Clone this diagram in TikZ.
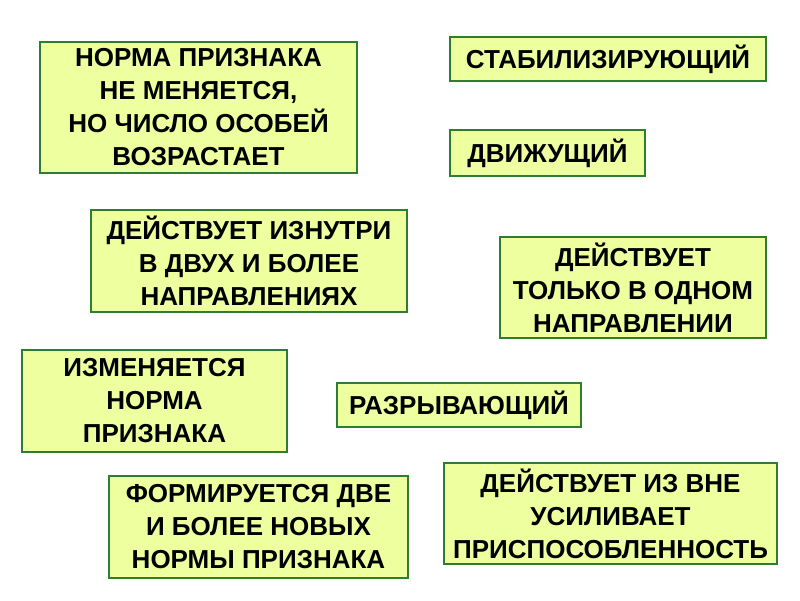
\documentclass[tikz,border=0pt]{standalone}
\usepackage{fontspec}
\setmainfont{Liberation Sans}
\definecolor{boxfill}{HTML}{EEFFA0}
\definecolor{boxline}{HTML}{2E7D32}
\begin{document}
\begin{tikzpicture}[x=1pt,y=-1pt,
  bx/.style={draw=boxline,line width=1.5pt,fill=boxfill,align=center,
    font=\fontsize{26}{33}\selectfont\bfseries,inner sep=0pt}]
\useasboundingbox (0,0) rectangle (800,600);
\newcommand\bxat[6]{\node[bx,minimum width={#3-#1},minimum height={#4-#2}] (#5) at ({(#1+#3)/2},{(#2+#4)/2}) {#6};}
\bxat{40}{42}{357}{173}{a}{НОРМА ПРИЗНАКА\\НЕ МЕНЯЕТСЯ,\\НО ЧИСЛО ОСОБЕЙ\\ВОЗРАСТАЕТ}
\bxat{450}{37}{766}{81}{b}{СТАБИЛИЗИРУЮЩИЙ}
\bxat{450}{130}{645}{176}{c}{ДВИЖУЩИЙ}
\bxat{91}{210}{407}{312}{d}{ДЕЙСТВУЕТ ИЗНУТРИ\\В ДВУХ И БОЛЕЕ\\НАПРАВЛЕНИЯХ}
\bxat{500}{237}{766}{338}{e}{ДЕЙСТВУЕТ\\ТОЛЬКО В ОДНОМ\\НАПРАВЛЕНИИ}
\bxat{22}{350}{287}{452}{f}{ИЗМЕНЯЕТСЯ\\НОРМА\\ПРИЗНАКА}
\bxat{337}{383}{581}{427}{g}{РАЗРЫВАЮЩИЙ}
\bxat{109}{476}{408}{578}{h}{ФОРМИРУЕТСЯ ДВЕ\\И БОЛЕЕ НОВЫХ\\НОРМЫ ПРИЗНАКА}
\bxat{444}{463}{777}{564}{i}{ДЕЙСТВУЕТ ИЗ ВНЕ\\УСИЛИВАЕТ\\ПРИСПОСОБЛЕННОСТЬ}
\end{tikzpicture}
\end{document}
